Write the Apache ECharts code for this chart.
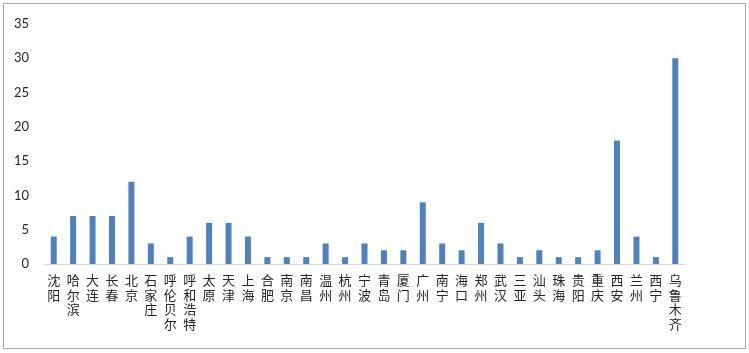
<!DOCTYPE html>
<html>
<head>
<meta charset="utf-8">
<script src="https://cdn.jsdelivr.net/npm/echarts@6/dist/echarts.min.js"></script>
<style>
  html, body { margin: 0; padding: 0; background: #fff; }
  #frame { position: absolute; left: 3px; top: 3px; width: 741px; height: 344px; border: 1px solid #a6a6a6; }
  #chart { position: absolute; left: 0; top: 0; width: 749px; height: 353px; }
</style>
</head>
<body>
<div id="frame"></div>
<div id="chart"></div>
<script>
// 城市
var cities = ['沈阳', '哈尔滨', '大连', '长春', '北京', '石家庄', '呼伦贝尔', '呼和浩特', '太原', '天津',
  '上海', '合肥', '南京', '南昌', '温州', '杭州', '宁波', '青岛', '厦门', '广州',
  '南宁', '海口', '郑州', '武汉', '三亚', '汕头', '珠海', '贵阳', '重庆', '西安',
  '兰州', '西宁', '乌鲁木齐']
var counts = [4, 7, 7, 7, 12, 3, 1, 4, 6, 6,
  4, 1, 1, 1, 3, 1, 3, 2, 2, 9,
  3, 2, 6, 3, 1, 2, 1, 1, 2, 18,
  4, 1, 30]
var yMax = 35
var yStep = 5

var chart = echarts.init(document.getElementById('chart'), null, { renderer: 'canvas' })
chart.setOption({
  animation: false,
  grid: {
    left: 44,
    right: 64,
    top: 24,
    bottom: 89,
    containLabel: false
  },
  xAxis: {
    type: 'category',
    data: cities,
    axisTick: { show: false },
    axisLine: { lineStyle: { color: '#d9d9d9', width: 1 } },
    axisLabel: {
      interval: 0,
      margin: 9,
      fontSize: 13,
      lineHeight: 14.5,
      color: '#262626',
      fontFamily: 'Noto Sans CJK SC',
      formatter: function(v) {
        return v.split('').join('\n')
      }
    }
  },
  yAxis: {
    type: 'value',
    min: 0,
    max: yMax,
    interval: yStep,
    axisLine: { show: false },
    axisTick: { show: false },
    splitLine: { show: false },
    axisLabel: {
      margin: 15,
      fontSize: 13,
      color: '#262626',
      fontFamily: 'Lato'
    }
  },
  series: [
    {
      type: 'bar',
      data: counts,
      barWidth: 6,
      itemStyle: { color: '#4f81bd' }
    }
  ]
})
</script>
</body>
</html>
